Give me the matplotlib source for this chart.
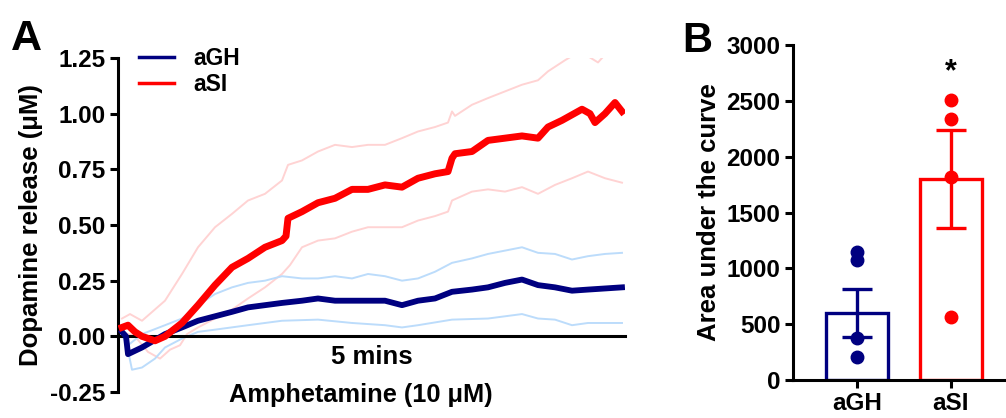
import matplotlib
matplotlib.use("Agg")
import matplotlib.pyplot as plt

plt.rcParams['font.family'] = ['Liberation Sans', 'DejaVu Sans']
plt.rcParams['font.weight'] = 'bold'

# ---------------- Panel A data (time in a.u., concentration in uM) ----------------
red_mean_t = [4, 10, 17, 24, 37, 47, 64, 80, 97, 114, 130, 147, 164, 168, 170, 184, 200, 217,
              234, 250, 267, 284, 300, 317, 330, 334, 337, 354, 370, 387, 404, 420, 430, 444,
              464, 472, 477, 487, 497, 504]
red_mean = [0.04, 0.05, 0.02, 0.00, -0.02, 0.00, 0.06, 0.14, 0.23, 0.31, 0.35, 0.40, 0.43,
            0.45, 0.53, 0.56, 0.60, 0.62, 0.66, 0.66, 0.68, 0.67, 0.71, 0.73, 0.74, 0.80,
            0.82, 0.83, 0.88, 0.89, 0.90, 0.89, 0.94, 0.97, 1.02, 1.00, 0.96, 1.00, 1.05, 1.01]

red_upper_t = [4, 12, 24, 47, 64, 80, 97, 114, 130, 147, 164, 170, 184, 200, 217, 234, 250,
               267, 284, 300, 317, 330, 334, 337, 354, 370, 387, 404, 420, 430, 447, 462, 480,
               492, 504]
red_upper = [0.08, 0.10, 0.07, 0.16, 0.28, 0.40, 0.49, 0.55, 0.61, 0.64, 0.70, 0.77, 0.79,
             0.83, 0.86, 0.85, 0.86, 0.86, 0.89, 0.92, 0.94, 0.96, 1.01, 0.99, 1.04, 1.07,
             1.10, 1.13, 1.15, 1.19, 1.24, 1.28, 1.23, 1.29, 1.30]

red_lower_t = [4, 17, 30, 42, 52, 62, 69, 80, 97, 114, 130, 147, 164, 172, 184, 200, 217,
               234, 250, 267, 284, 300, 317, 330, 334, 354, 370, 387, 404, 420, 437, 454,
               470, 487, 504]
red_lower = [0.02, 0.00, -0.07, -0.10, -0.06, -0.04, 0.01, 0.04, 0.08, 0.12, 0.17, 0.22,
             0.28, 0.32, 0.40, 0.43, 0.44, 0.47, 0.49, 0.49, 0.49, 0.52, 0.54, 0.56, 0.61,
             0.65, 0.66, 0.65, 0.67, 0.64, 0.68, 0.71, 0.74, 0.71, 0.69]

blue_mean_t = [4, 8, 10, 24, 47, 64, 80, 97, 114, 130, 147, 164, 184, 200, 217, 234, 250,
               267, 284, 300, 317, 334, 354, 370, 387, 404, 420, 437, 454, 470, 487, 504]
blue_mean = [0.02, 0.00, -0.08, -0.05, 0.01, 0.04, 0.07, 0.09, 0.11, 0.13, 0.14, 0.15, 0.16,
             0.17, 0.16, 0.16, 0.16, 0.16, 0.14, 0.16, 0.17, 0.20, 0.21, 0.22, 0.24, 0.255,
             0.23, 0.22, 0.205, 0.21, 0.215, 0.22]

blue_upper_t = [4, 10, 24, 47, 64, 80, 97, 114, 130, 147, 164, 184, 200, 217, 234, 250, 267,
                284, 300, 317, 334, 354, 370, 387, 404, 420, 437, 454, 470, 487, 504]
blue_upper = [0.02, -0.04, 0.01, 0.05, 0.08, 0.14, 0.19, 0.22, 0.24, 0.25, 0.27, 0.26, 0.26,
              0.27, 0.26, 0.28, 0.27, 0.25, 0.26, 0.29, 0.33, 0.35, 0.37, 0.385, 0.40, 0.375,
              0.37, 0.345, 0.36, 0.37, 0.375]

blue_lower_t = [4, 8, 14, 24, 37, 47, 64, 80, 97, 130, 164, 200, 234, 267, 284, 300, 334,
                370, 404, 420, 437, 454, 470, 504]
blue_lower = [0.00, -0.02, -0.15, -0.14, -0.10, -0.05, -0.01, 0.02, 0.03, 0.05, 0.07, 0.075,
              0.06, 0.05, 0.04, 0.05, 0.075, 0.08, 0.10, 0.08, 0.075, 0.05, 0.06, 0.06]

legend_labels = ["aGH", "aSI"]
a_yticks = [-0.25, 0.00, 0.25, 0.50, 0.75, 1.00, 1.25]

# ---------------- Panel B data ----------------
groups = ["aGH", "aSI"]
auc_mean = [600, 1800]
auc_sem = [215, 440]
auc_points_gh = [1147, 1075, 376, 206]
auc_points_si = [2509, 2339, 1819, 565]
b_yticks = [0, 500, 1000, 1500, 2000, 2500, 3000]

NAVY = "#000080"
RED = "#ff0000"
LIGHT_RED = "#ffd3d3"
LIGHT_BLUE = "#bcdcfb"

W, H = 1006, 418
fig = plt.figure(figsize=(W / 100, H / 100), dpi=100)

TICK_FS = 17.5
LABEL_FS = 18.5

# ---------------- Panel A ----------------
axA = fig.add_axes([118 / W, 1 - 392 / H, (625 - 118) / W, (392 - 58) / H])
axA.set_xlim(0, 507)
axA.set_ylim(-0.25, 1.25)
axA.plot(red_upper_t, red_upper, color=LIGHT_RED, lw=1.4, zorder=1)
axA.plot(red_lower_t, red_lower, color=LIGHT_RED, lw=1.4, zorder=1)
axA.plot(blue_upper_t, blue_upper, color=LIGHT_BLUE, lw=1.4, zorder=1)
axA.plot(blue_lower_t, blue_lower, color=LIGHT_BLUE, lw=1.4, zorder=1)
axA.plot(blue_mean_t, blue_mean, color=NAVY, lw=4.2, zorder=3, label=legend_labels[0])
axA.plot(red_mean_t, red_mean, color=RED, lw=5.0, zorder=4, label=legend_labels[1])

for s in ["top", "right"]:
    axA.spines[s].set_visible(False)
axA.spines["left"].set_linewidth(2.2)
axA.spines["bottom"].set_position(("data", 0))
axA.spines["bottom"].set_linewidth(2.2)
axA.spines["bottom"].set_zorder(2)
axA.set_xticks([])
axA.set_yticks(a_yticks)
axA.set_yticklabels([f"{v:.2f}" for v in a_yticks])
axA.tick_params(axis="y", direction="out", length=6, width=2.2, labelsize=TICK_FS, pad=3)
axA.set_ylabel("Dopamine release (\u03bcM)", fontsize=LABEL_FS, fontweight="bold", labelpad=5)
leg = axA.legend(loc="upper left", bbox_to_anchor=(0.0, 1.095), frameon=False,
                 fontsize=16.5, handlelength=1.55, handletextpad=0.85, labelspacing=0.12)
for l in leg.get_lines():
    l.set_linewidth(2.5)
fig.text(372 / W, 1 - 357 / H, "5 mins", ha="center", va="center", fontsize=18.5,
         fontweight="bold")
fig.text(361 / W, 1 - 395 / H, "Amphetamine (10 \u03bcM)", ha="center", va="center",
         fontsize=18.3, fontweight="bold")
fig.text(11 / W, 1 - 50 / H, "A", ha="left", va="baseline", fontsize=31, fontweight="bold")

# ---------------- Panel B ----------------
axB = fig.add_axes([793 / W, 1 - 380 / H, (1006 - 793) / W, (380 - 45) / H])
xpos = [0, 1]
colors = [NAVY, RED]
axB.bar(xpos, auc_mean, width=0.65, facecolor="white", edgecolor=colors, linewidth=2.4,
        zorder=2)
for i in range(2):
    axB.errorbar(xpos[i], auc_mean[i], yerr=auc_sem[i], color=colors[i], elinewidth=2.4,
                 capsize=11, capthick=2.4, zorder=3)
axB.plot([xpos[0]] * len(auc_points_gh), auc_points_gh, "o", color=NAVY, ms=9, zorder=4,
         clip_on=False)
axB.plot([xpos[1]] * len(auc_points_si), auc_points_si, "o", color=RED, ms=9, zorder=4,
         clip_on=False)
axB.text(xpos[1], 2760, "*", ha="center", va="center", fontsize=22, fontweight="bold")
axB.set_xlim(-0.68, 1.585)
axB.set_ylim(0, 3000)
for s in ["top", "right"]:
    axB.spines[s].set_visible(False)
for s in ["left", "bottom"]:
    axB.spines[s].set_linewidth(2.2)
    axB.spines[s].set_zorder(5)
axB.set_xticks(xpos)
axB.set_xticklabels(groups)
axB.set_yticks(b_yticks)
axB.tick_params(axis="both", direction="out", length=6, width=2.2, labelsize=TICK_FS, pad=3)
axB.set_ylabel("Area under the curve", fontsize=LABEL_FS, fontweight="bold", labelpad=4)
fig.text(682 / W, 1 - 52 / H, "B", ha="left", va="baseline", fontsize=30, fontweight="bold")

fig.savefig("out.png", dpi=100)
